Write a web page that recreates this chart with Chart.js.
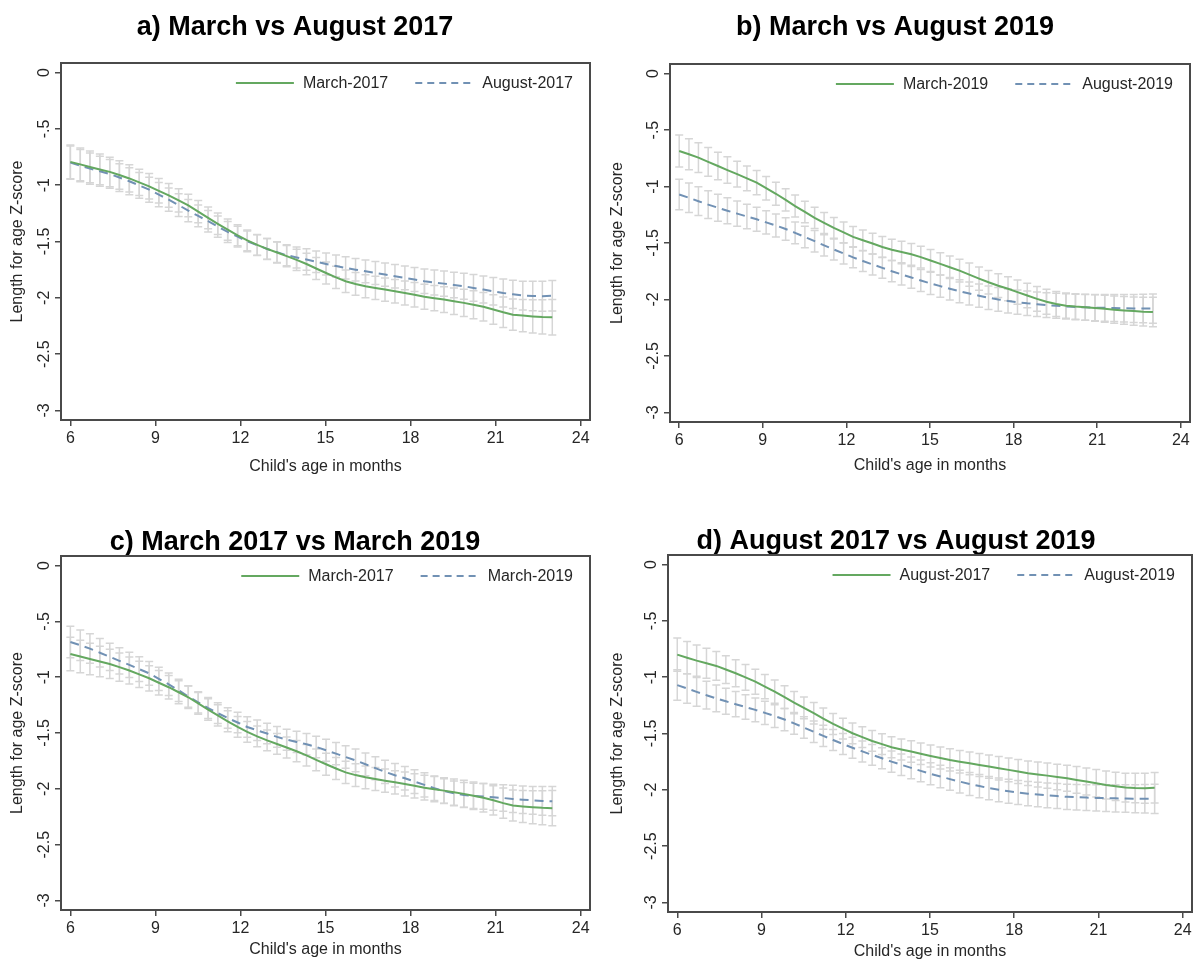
<!DOCTYPE html>
<html>
<head>
<meta charset="utf-8">
<script src="https://cdn.jsdelivr.net/npm/chart.js@4.4.1/dist/chart.umd.min.js"></script>
<style>
  html, body { margin: 0; padding: 0; background: #fff; }
  #wrap { position: relative; width: 1195px; height: 963px; overflow: hidden; background: #fff; }
  #wrap canvas { position: absolute; }
</style>
</head>
<body>
<div id="wrap">
  <canvas id="panelA" width="606" height="480" style="left:0px;top:0px"></canvas>
  <canvas id="panelB" width="595" height="480" style="left:600px;top:0px"></canvas>
  <canvas id="panelC" width="606" height="483" style="left:0px;top:480px"></canvas>
  <canvas id="panelD" width="595" height="483" style="left:600px;top:480px"></canvas>
</div>
<script>
// Smoothing grid: child's age in months
const ageMonths = [6.00, 6.35, 6.69, 7.04, 7.39, 7.73, 8.08, 8.43, 8.78, 9.12,
  9.47, 9.82, 10.16, 10.51, 10.86, 11.20, 11.55, 11.90, 12.24, 12.59,
  12.94, 13.29, 13.63, 13.98, 14.33, 14.67, 15.02, 15.37, 15.71, 16.06,
  16.41, 16.76, 17.10, 17.45, 17.80, 18.14, 18.49, 18.84, 19.18, 19.53,
  19.88, 20.22, 20.57, 20.92, 21.27, 21.61, 21.96, 22.31, 22.65, 23.00];

// Smoothed length-for-age Z-score by survey round
const march2017 = [-0.793, -0.815, -0.838, -0.860, -0.882, -0.910, -0.940, -0.975, -1.010, -1.050,
  -1.090, -1.135, -1.180, -1.235, -1.290, -1.343, -1.395, -1.445, -1.490, -1.530,
  -1.566, -1.598, -1.630, -1.663, -1.700, -1.740, -1.780, -1.818, -1.853, -1.877,
  -1.897, -1.912, -1.927, -1.942, -1.957, -1.973, -1.990, -2.003, -2.016, -2.030,
  -2.045, -2.062, -2.080, -2.103, -2.128, -2.150, -2.158, -2.165, -2.170, -2.173];
const august2017 = [-0.800, -0.827, -0.853, -0.877, -0.900, -0.932, -0.965, -1.002, -1.040, -1.084,
  -1.128, -1.177, -1.226, -1.273, -1.320, -1.368, -1.415, -1.457, -1.498, -1.532,
  -1.566, -1.594, -1.622, -1.642, -1.660, -1.680, -1.700, -1.718, -1.735, -1.750,
  -1.765, -1.780, -1.794, -1.809, -1.823, -1.838, -1.853, -1.864, -1.874, -1.886,
  -1.897, -1.912, -1.927, -1.942, -1.957, -1.969, -1.980, -1.984, -1.986, -1.982];
const march2019 = [-0.685, -0.714, -0.744, -0.781, -0.818, -0.854, -0.890, -0.928, -0.966, -1.015,
  -1.064, -1.118, -1.173, -1.225, -1.277, -1.322, -1.366, -1.406, -1.446, -1.476,
  -1.505, -1.535, -1.560, -1.580, -1.600, -1.625, -1.655, -1.685, -1.715, -1.745,
  -1.780, -1.815, -1.848, -1.878, -1.905, -1.935, -1.965, -1.995, -2.020, -2.040,
  -2.055, -2.063, -2.068, -2.075, -2.082, -2.090, -2.097, -2.103, -2.108, -2.111];
const august2019 = [-1.070, -1.100, -1.130, -1.160, -1.188, -1.214, -1.240, -1.265, -1.290, -1.317,
  -1.345, -1.376, -1.410, -1.447, -1.484, -1.521, -1.558, -1.593, -1.627, -1.659,
  -1.690, -1.720, -1.750, -1.778, -1.805, -1.832, -1.858, -1.882, -1.905, -1.927,
  -1.948, -1.967, -1.985, -2.000, -2.013, -2.024, -2.034, -2.042, -2.050, -2.056,
  -2.062, -2.066, -2.069, -2.072, -2.074, -2.076, -2.078, -2.079, -2.080, -2.081];

// Half-width of the 95% confidence interval at each grid point
const ciMarch2017 = [0.150, 0.146, 0.141, 0.136, 0.131, 0.126, 0.121, 0.117, 0.113, 0.109,
  0.106, 0.103, 0.100, 0.098, 0.096, 0.095, 0.094, 0.093, 0.093, 0.093,
  0.093, 0.093, 0.094, 0.095, 0.096, 0.097, 0.098, 0.099, 0.100, 0.101,
  0.102, 0.103, 0.104, 0.105, 0.107, 0.109, 0.111, 0.113, 0.115, 0.118,
  0.121, 0.124, 0.127, 0.131, 0.135, 0.139, 0.143, 0.147, 0.152, 0.157];
const ciAugust2017 = [0.148, 0.143, 0.138, 0.133, 0.128, 0.123, 0.119, 0.115, 0.111, 0.107,
  0.104, 0.101, 0.099, 0.097, 0.095, 0.094, 0.093, 0.092, 0.092, 0.092,
  0.092, 0.092, 0.093, 0.094, 0.095, 0.096, 0.097, 0.098, 0.099, 0.100,
  0.101, 0.102, 0.103, 0.104, 0.105, 0.107, 0.108, 0.110, 0.112, 0.114,
  0.116, 0.118, 0.120, 0.122, 0.124, 0.126, 0.128, 0.130, 0.133, 0.136];
const ciMarch2019 = [0.142, 0.137, 0.132, 0.127, 0.122, 0.118, 0.114, 0.110, 0.107, 0.104,
  0.101, 0.099, 0.097, 0.095, 0.094, 0.093, 0.092, 0.092, 0.092, 0.092,
  0.092, 0.093, 0.094, 0.095, 0.096, 0.097, 0.098, 0.099, 0.100, 0.101,
  0.102, 0.103, 0.104, 0.105, 0.106, 0.107, 0.108, 0.109, 0.110, 0.111,
  0.112, 0.113, 0.115, 0.117, 0.119, 0.121, 0.123, 0.125, 0.128, 0.131];
const ciAugust2019 = [0.135, 0.131, 0.127, 0.123, 0.119, 0.115, 0.112, 0.109, 0.106, 0.103,
  0.101, 0.099, 0.097, 0.096, 0.095, 0.094, 0.093, 0.093, 0.093, 0.093,
  0.093, 0.093, 0.094, 0.095, 0.096, 0.097, 0.098, 0.099, 0.100, 0.101,
  0.102, 0.103, 0.104, 0.105, 0.106, 0.107, 0.108, 0.109, 0.110, 0.111,
  0.112, 0.113, 0.114, 0.116, 0.118, 0.120, 0.122, 0.124, 0.127, 0.130];

// Axis ticks
const xTickValues = [6, 9, 12, 15, 18, 21, 24];
const xTickLabels = ['6', '9', '12', '15', '18', '21', '24'];
const yTickValues = [0, -0.5, -1, -1.5, -2, -2.5, -3];
const yTickLabels = ['0', '-.5', '-1', '-1.5', '-2', '-2.5', '-3'];

const FONT = "'Liberation Sans', Arial, Helvetica, sans-serif";
const GREEN = '#64a860';
const BLUE = '#7191b4';
const BAR_GREY = '#d6d6d6';
const AXIS_GREY = '#4a4a4a';
const TEXT = '#262626';

const series = {
  'March-2017': { mean: march2017, ci: ciMarch2017 },
  'August-2017': { mean: august2017, ci: ciAugust2017 },
  'March-2019': { mean: march2019, ci: ciMarch2019 },
  'August-2019': { mean: august2019, ci: ciAugust2019 }
};

function points(values) {
  return ageMonths.map((a, i) => ({ x: a, y: values[i] }));
}

// Capped confidence-interval spikes, drawn underneath the fitted lines
const ciCaps = {
  id: 'ciCaps',
  beforeDatasetsDraw(chart) {
    const { ctx, scales: { x, y } } = chart;
    ctx.save();
    ctx.strokeStyle = BAR_GREY;
    ctx.lineWidth = 1.5;
    chart.data.datasets.forEach(ds => {
      ds.data.forEach((p, i) => {
        const px = x.getPixelForValue(p.x);
        const lo = y.getPixelForValue(p.y - ds.ci[i]);
        const hi = y.getPixelForValue(p.y + ds.ci[i]);
        ctx.beginPath();
        ctx.moveTo(px, lo); ctx.lineTo(px, hi);
        ctx.moveTo(px - 4, lo); ctx.lineTo(px + 4, lo);
        ctx.moveTo(px - 4, hi); ctx.lineTo(px + 4, hi);
        ctx.stroke();
      });
    });
    ctx.restore();
  }
};

// Plot-region frame, rotated y labels and the in-plot key
const frameAndKey = {
  id: 'frameAndKey',
  afterDraw(chart) {
    const { ctx, chartArea: ca, scales: { y } } = chart;
    ctx.save();
    ctx.strokeStyle = AXIS_GREY;
    ctx.lineWidth = 2;
    ctx.strokeRect(ca.left, ca.top, ca.right - ca.left, ca.bottom - ca.top);

    ctx.font = '16px ' + FONT;
    ctx.fillStyle = TEXT;
    ctx.textAlign = 'center';
    ctx.textBaseline = 'alphabetic';
    yTickValues.forEach((v, i) => {
      const py = y.getPixelForValue(v);
      ctx.save();
      ctx.translate(ca.left - 12, py);
      ctx.rotate(-Math.PI / 2);
      ctx.fillText(yTickLabels[i], 0, 0);
      ctx.restore();
    });

    // key: [line][label]  [dashed line][label], right-aligned in the plot
    const sampleLen = 58, gapText = 9, gapItem = 27;
    const items = chart.data.datasets.map(ds => ({
      text: ds.label, color: ds.borderColor, dash: ds.borderDash || [], w: ctx.measureText(ds.label).width
    }));
    let total = 0;
    items.forEach((it, k) => { total += sampleLen + gapText + it.w + (k ? gapItem : 0); });
    let cx = ca.right - 17 - total;
    const cy = ca.top + 20;
    ctx.textAlign = 'left';
    ctx.textBaseline = 'middle';
    items.forEach((it, k) => {
      if (k) cx += gapItem;
      ctx.beginPath();
      ctx.strokeStyle = it.color;
      ctx.lineWidth = 1.8;
      ctx.setLineDash(it.dash.length ? [7, 5] : []);
      ctx.moveTo(cx, cy); ctx.lineTo(cx + sampleLen, cy);
      ctx.stroke();
      ctx.setLineDash([]);
      cx += sampleLen + gapText;
      ctx.fillStyle = TEXT;
      ctx.fillText(it.text, cx, cy + 1);
      cx += it.w;
    });
    ctx.restore();
  }
};

function makePanel(id, title, solidName, dashedName, g) {
  const solid = series[solidName], dashed = series[dashedName];
  return new Chart(document.getElementById(id), {
    type: 'line',
    data: {
      datasets: [
        { label: solidName, data: points(solid.mean), ci: solid.ci,
          borderColor: GREEN, borderWidth: 2, pointRadius: 0, tension: 0, fill: false },
        { label: dashedName, data: points(dashed.mean), ci: dashed.ci,
          borderColor: BLUE, borderWidth: 2, borderDash: [9, 6], pointRadius: 0, tension: 0, fill: false }
      ]
    },
    options: {
      responsive: false,
      animation: false,
      devicePixelRatio: 1,
      layout: { padding: { right: g.padRight } },
      plugins: {
        legend: { display: false },
        tooltip: { enabled: false },
        title: {
          display: true, text: title, color: '#000',
          font: { family: FONT, size: 27, weight: 'bold', lineHeight: 1.0 },
          padding: { top: g.titleTop, bottom: g.titleBottom }
        }
      },
      scales: {
        x: {
          type: 'linear', min: 5.67, max: 24.33,
          afterBuildTicks: s => { s.ticks = xTickValues.map(v => ({ value: v })); },
          afterFit: s => { s.height = g.xAxisH; },
          grid: { display: true, drawOnChartArea: false, drawTicks: true, tickLength: 6, color: AXIS_GREY, lineWidth: 1.5 },
          border: { display: false },
          ticks: { autoSkip: false, maxRotation: 0, padding: 3, color: TEXT,
                   font: { family: FONT, size: 16 },
                   callback: (v) => xTickLabels[xTickValues.indexOf(v)] },
          title: { display: true, text: "Child's age in months", color: TEXT,
                   font: { family: FONT, size: 16, lineHeight: 1.2 },
                   padding: { top: 0, bottom: g.xTitleBottom } }
        },
        y: {
          type: 'linear', min: -3.085, max: 0.085,
          afterBuildTicks: s => { s.ticks = yTickValues.map(v => ({ value: v })); },
          afterFit: s => { s.width = g.yAxisW; },
          grid: { display: true, drawOnChartArea: false, drawTicks: true, tickLength: 6, color: AXIS_GREY, lineWidth: 1.5 },
          border: { display: false },
          ticks: { display: false },
          title: { display: true, text: 'Length for age Z-score', color: TEXT,
                   font: { family: FONT, size: 16, lineHeight: 1.2 },
                   padding: { top: 8, bottom: 0 } }
        }
      }
    },
    plugins: [ciCaps, frameAndKey]
  });
}

makePanel('panelA', 'a) March vs August 2017', 'March-2017', 'August-2017',
  { padRight: 16, titleTop: 14.5, titleBottom: 21.5, xAxisH: 60, xTitleBottom: 4, yAxisW: 61 });
makePanel('panelB', 'b) March vs August 2019', 'March-2019', 'August-2019',
  { padRight: 5, titleTop: 14.5, titleBottom: 22.5, xAxisH: 58, xTitleBottom: 5, yAxisW: 70 });
makePanel('panelC', 'c) March 2017 vs March 2019', 'March-2017', 'March-2019',
  { padRight: 16, titleTop: 49, titleBottom: 0, xAxisH: 53, xTitleBottom: 4, yAxisW: 61 });
makePanel('panelD', 'd) August 2017 vs August 2019', 'August-2017', 'August-2019',
  { padRight: 3, titleTop: 48, titleBottom: 0, xAxisH: 51, xTitleBottom: 2, yAxisW: 68 });
</script>
</body>
</html>
